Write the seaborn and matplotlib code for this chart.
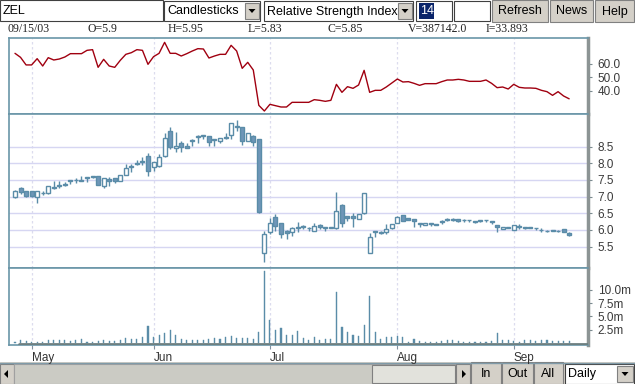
import numpy as np
import pandas as pd
import seaborn as sns
import matplotlib.pyplot as plt
from matplotlib.patches import Rectangle, Polygon

sns.set_theme(style="white")
plt.rcParams['font.family'] = ['Liberation Sans', 'DejaVu Sans']

# daily candles, 101 sessions ending 09/15/03
opens = [6.98, 7.25, 7.18, 7.18, 6.98, 7.10, 7.11, 7.30, 7.32, 7.36,
         7.47, 7.49, 7.50, 7.57, 7.61, 7.61, 7.33, 7.53, 7.55, 7.48,
         7.66, 7.90, 8.00, 8.05, 8.23, 7.88, 7.91, 8.23, 8.96, 8.45,
         8.60, 8.51, 8.67, 8.80, 8.83, 8.81, 8.70, 8.66, 8.78, 8.84,
         9.10, 9.08, 8.68, 8.81, 8.73, 5.30, 5.93, 6.38, 6.21, 5.98,
         5.93, 6.07, 6.13, 6.05, 5.98, 6.16, 6.10, 6.07, 6.05, 6.76,
         6.41, 6.43, 6.33, 6.51, 5.30, 5.95, 5.92, 5.95, 6.05, 6.20,
         6.45, 6.35, 6.33, 6.21, 6.15, 6.21, 6.18, 6.25, 6.31, 6.31,
         6.33, 6.31, 6.30, 6.26, 6.28, 6.30, 6.28, 6.15, 6.03, 6.07,
         6.01, 6.10, 6.08, 6.08, 6.06, 6.00, 5.98, 6.01, 5.98, 6.03, 5.90]
highs = [7.20, 7.28, 7.18, 7.18, 7.18, 7.16, 7.33, 7.46, 7.48, 7.43,
         7.51, 7.55, 7.63, 7.60, 7.63, 7.62, 7.56, 7.58, 7.57, 7.66,
         7.98, 7.98, 8.10, 8.20, 8.31, 8.03, 8.28, 8.91, 9.10, 8.93,
         8.66, 8.60, 8.72, 8.86, 8.86, 8.81, 8.73, 8.77, 8.91, 9.20,
         9.30, 9.10, 8.92, 8.86, 8.73, 5.98, 6.35, 6.48, 6.21, 6.00,
         6.10, 6.23, 6.14, 6.08, 6.21, 6.17, 6.10, 6.10, 7.15, 6.78,
         6.42, 6.50, 6.49, 7.10, 5.91, 5.98, 5.96, 6.18, 6.18, 6.41,
         6.46, 6.36, 6.33, 6.21, 6.21, 6.22, 6.18, 6.31, 6.35, 6.35,
         6.33, 6.32, 6.31, 6.27, 6.30, 6.31, 6.28, 6.15, 6.10, 6.09,
         6.15, 6.18, 6.09, 6.09, 6.07, 6.05, 5.99, 6.01, 5.99, 6.03, 5.95]
lows = [6.96, 7.08, 6.98, 6.98, 6.80, 7.05, 7.08, 7.23, 7.26, 7.33,
        7.38, 7.41, 7.46, 7.45, 7.56, 7.34, 7.25, 7.33, 7.40, 7.47,
        7.65, 7.73, 7.96, 7.96, 7.63, 7.76, 7.88, 8.20, 8.43, 8.33,
        8.35, 8.45, 8.53, 8.60, 8.72, 8.53, 8.51, 8.60, 8.72, 8.72,
        8.98, 8.56, 8.67, 8.53, 6.50, 5.03, 5.88, 5.98, 5.76, 5.73,
        5.81, 5.93, 6.03, 5.96, 5.96, 6.03, 5.98, 6.05, 6.03, 6.08,
        6.28, 6.08, 6.32, 6.48, 5.30, 5.78, 5.88, 5.88, 6.04, 6.20,
        6.26, 6.29, 6.10, 6.08, 6.15, 6.13, 6.15, 6.18, 6.26, 6.26,
        6.23, 6.23, 6.25, 6.21, 6.23, 6.25, 6.18, 5.93, 6.02, 6.05,
        6.00, 6.03, 6.03, 6.05, 6.00, 5.93, 5.93, 5.96, 5.95, 5.93, 5.83]
closes = [7.18, 7.15, 7.01, 7.01, 7.18, 7.12, 7.31, 7.27, 7.34, 7.38,
          7.49, 7.50, 7.47, 7.59, 7.58, 7.36, 7.55, 7.46, 7.46, 7.65,
          7.86, 7.92, 7.97, 8.07, 7.76, 8.03, 8.18, 8.75, 8.50, 8.51,
          8.48, 8.47, 8.69, 8.82, 8.84, 8.63, 8.72, 8.76, 8.75, 9.20,
          9.12, 8.68, 8.91, 8.63, 6.53, 5.88, 6.20, 6.13, 5.88, 5.90,
          6.05, 6.09, 6.08, 6.07, 6.13, 6.08, 6.05, 6.09, 6.56, 6.20,
          6.36, 6.35, 6.48, 7.10, 5.78, 5.96, 5.93, 6.03, 6.18, 6.40,
          6.28, 6.30, 6.26, 6.18, 6.21, 6.19, 6.15, 6.27, 6.32, 6.32,
          6.28, 6.30, 6.29, 6.25, 6.29, 6.29, 6.23, 6.10, 6.10, 6.08,
          6.15, 6.11, 6.07, 6.07, 6.05, 6.00, 5.97, 5.96, 5.97, 5.93, 5.85]
volume_m = [0.13, 0.50, 0.31, 0.25, 0.19, 0.25, 0.50, 0.50, 0.50, 0.50,
            0.38, 0.50, 0.75, 0.19, 0.25, 0.31, 0.50, 0.38, 0.38, 0.50,
            0.94, 0.75, 0.75, 1.19, 3.19, 1.19, 1.50, 1.88, 2.44, 1.50,
            0.69, 0.50, 0.56, 0.50, 0.63, 0.75, 0.94, 0.75, 1.19, 1.25,
            0.88, 0.94, 0.88, 0.75, 2.06, 13.50, 4.31, 2.44, 2.81, 1.50,
            1.50, 2.25, 0.94, 0.56, 1.19, 0.50, 0.75, 0.75, 9.63, 3.00,
            2.06, 1.50, 1.31, 3.38, 8.82, 2.06, 0.81, 1.19, 1.19, 1.31,
            1.06, 0.13, 0.75, 0.38, 0.19, 0.19, 0.19, 0.38, 0.50, 0.50,
            0.38, 0.25, 0.19, 0.19, 0.19, 0.19, 0.38, 1.88, 0.50, 0.50,
            0.31, 0.25, 0.50, 0.50, 0.38, 0.50, 0.50, 0.38, 0.38, 0.38, 0.387]
rsi = [68.0, 65.0, 59.3, 59.3, 64.0, 58.5, 64.75, 63.0, 63.75, 65.25,
       67.75, 67.75, 67.75, 70.25, 70.75, 57.5, 63.5, 58.5, 57.5, 62.75,
       67.25, 68.5, 70.75, 70.25, 59.75, 65.5, 68.0, 76.25, 68.0, 68.0,
       66.0, 67.75, 69.75, 71.5, 71.25, 64.5, 66.0, 67.25, 67.25, 74.0,
       69.75, 56.75, 61.25, 55.5, 29.0, 24.75, 29.75, 28.75, 27.75, 27.75,
       31.25, 31.25, 31.25, 31.25, 33.25, 32.75, 32.0, 32.75, 44.75, 38.75,
       43.0, 41.75, 44.25, 55.25, 38.75, 40.25, 40.25, 42.75, 45.75, 48.75,
       46.5, 46.75, 45.5, 44.0, 45.25, 45.25, 45.25, 46.75, 48.0, 48.0,
       48.5, 48.0, 47.0, 47.0, 47.0, 48.0, 45.5, 42.25, 42.75, 41.25,
       44.75, 42.5, 42.0, 42.0, 41.75, 40.25, 39.25, 36.5, 39.25, 36.0, 33.893]

month_ticks = [3, 25, 46, 69, 90]
month_labels = ["May", "Jun", "Jul", "Aug", "Sep"]
price_ticks = [5.5, 6.0, 6.5, 7.0, 7.5, 8.0, 8.5]
rsi_ticks = [40.0, 50.0, 60.0]
vol_ticks = [2.5, 5.0, 7.5, 10.0]
info = ["09/15/03", "O=5.9", "H=5.95", "L=5.83", "C=5.85", "V=387142.0", "I=33.893"]

df = pd.DataFrame({"o": opens, "h": highs, "l": lows, "c": closes,
                   "vol": volume_m, "rsi": rsi})
df["i"] = np.arange(len(df))

W, H = 635, 384
fig = plt.figure(figsize=(W / 100, H / 100), dpi=100)
fig.patch.set_facecolor("white")


def box(x0, y0, x1, y1):
    return [x0 / W, 1 - y1 / H, (x1 - x0) / W, (y1 - y0) / H]


# ---- window chrome (toolbar / scrollbar) ----
ui = fig.add_axes([0, 0, 1, 1])
ui.set_xlim(0, W)
ui.set_ylim(H, 0)
ui.axis("off")
grey = "#d4d0c8"


def rect(x0, y0, x1, y1, fc, ec="#808080", lw=0.8):
    ui.add_patch(Rectangle((x0, y0), x1 - x0, y1 - y0, fc=fc, ec=ec, lw=lw))


def arrow_down(x0, y0, x1, y1):
    rect(x0, y0, x1, y1, grey)
    cx, cy = (x0 + x1) / 2, (y0 + y1) / 2
    ui.add_patch(Polygon([(cx - 3.5, cy - 2), (cx + 3.5, cy - 2), (cx, cy + 2)], fc="black", ec="none"))


rect(0, 0, 163, 21, "white", "#404040")
ui.text(3, 11, "ZEL", fontsize=9, va="center", color="black")
rect(164, 1, 260, 21, "white", "#404040")
ui.text(167, 11.5, "Candlesticks", fontsize=9, va="center", color="black")
arrow_down(245, 3, 259, 19)
rect(264, 1, 413, 21, "white", "#404040")
ui.text(267, 11.5, "Relative Strength Index", fontsize=9, va="center", color="black")
arrow_down(398, 3, 412, 19)
rect(416, 1, 452, 21, "white", "#404040")
rect(419, 3, 434, 19, "#0a246a", "none")
ui.text(420, 11.5, "14", fontsize=9, va="center", color="white")
rect(454, 1, 490, 21, "white", "#404040")
for x0, x1, lab in [(492, 548, "Refresh"), (550, 593, "News"), (595, 634, "Help")]:
    rect(x0, 0, x1, 22, grey)
    ui.text((x0 + x1) / 2, 11.5, lab, fontsize=9, ha="center", va="center", color="black")

for x, t in zip([8, 88, 168, 248, 327, 408, 486], info):
    ui.text(x, 29.5, t, fontsize=8.5, va="center", color="#222222", family="Liberation Serif")

ui.add_patch(Rectangle((0, 362), W, 22, fc=grey, ec="none"))
ui.plot([0, W], [362.5, 362.5], color="#7f9aa8", lw=1)
rect(0, 364, 14, 384, grey)
ui.add_patch(Polygon([(4, 374), (8, 370), (8, 378)], fc="black", ec="none"))
rect(14, 364, 456, 384, "#cbcbc4", "#a0a0a0")
rect(372, 365, 455, 383, "#e2e2dc", "#808080")
rect(456, 364, 470, 384, grey)
ui.add_patch(Polygon([(466, 374), (462, 370), (462, 378)], fc="black", ec="none"))
for x0, x1, lab in [(471, 501, "In"), (502, 533, "Out"), (534, 563, "All")]:
    rect(x0, 362, x1, 384, grey)
    ui.text((x0 + x1) / 2, 374, lab, fontsize=9, ha="center", va="center", color="black")
rect(565, 364, 634, 384, "white", "#404040")
ui.text(568, 374.5, "Daily", fontsize=9, va="center", color="black")
arrow_down(617, 366, 633, 382)

# ---- chart panels ----
ax_rsi = fig.add_axes(box(9, 38, 588, 114))
ax_px = fig.add_axes(box(9, 114, 588, 268))
ax_vol = fig.add_axes(box(9, 268, 588, 345))

edge = "#5a8ca8"
fill = "#6f96b8"
grid_c = "#d6d6f2"

for ax in (ax_rsi, ax_px, ax_vol):
    ax.set_facecolor("white")
    ax.set_xlim(-1.08, 103.4)
    for s in ("left", "top", "bottom"):
        ax.spines[s].set_color("#6a96a8")
        ax.spines[s].set_linewidth(1.2)
    ax.spines["right"].set_color("#8c9494")
    ax.spines["right"].set_linewidth(2.5)
    ax.set_xticks(month_ticks)
    ax.xaxis.grid(True, color="#dcdcee", ls=(0, (2, 2)), lw=0.9)
    ax.set_axisbelow(True)
    ax.yaxis.tick_right()
    ax.tick_params(axis="y", which="both", direction="out", length=3, width=0.8,
                   color="#7a8a90", labelsize=8.5, labelcolor="#3a3a3a", pad=4,
                   left=False, labelleft=False, right=True, labelright=True)

# RSI
sns.lineplot(data=df, x="i", y="rsi", ax=ax_rsi, color="#a00010", lw=1)
ax_rsi.set_ylim(22.5, 79.5)
ax_rsi.set_yticks(rsi_ticks)
ax_rsi.set_yticklabels([f"{t:.1f}" for t in rsi_ticks])
ax_rsi.set_xlabel("")
ax_rsi.set_ylabel("")

# candlesticks
up = df["c"] >= df["o"]
ax_px.vlines(df["i"], df["l"], df["h"], color=edge, lw=1, zorder=2)
body_lo = np.minimum(df["o"], df["c"])
body_h = np.maximum((df["c"] - df["o"]).abs(), 0.015)
ax_px.bar(df["i"], body_h, bottom=body_lo, width=0.72,
          color=np.where(up, "white", fill), edgecolor=edge, lw=1, zorder=3)
ax_px.set_ylim(4.86, 9.48)
ax_px.set_yticks(price_ticks)
ax_px.set_yticklabels([f"{t:.1f}" for t in price_ticks])
ax_px.yaxis.grid(True, color=grid_c, ls="-", lw=1)

# volume
ax_vol.bar(df["i"], df["vol"], width=0.2, color=edge, edgecolor=edge, lw=0.3, zorder=3)
ax_vol.axhline(-0.2, xmin=0.017, xmax=1, color="#6d7f80", lw=2, zorder=4)
ax_vol.set_ylim(-0.375, 14.07)
ax_vol.set_yticks(vol_ticks)
ax_vol.set_yticklabels([f"{t:.1f}m" for t in vol_ticks])

for ax in (ax_rsi, ax_px):
    ax.tick_params(axis="x", length=0, labelbottom=False)
ax_vol.set_xticklabels(month_labels, ha="left")
ax_vol.tick_params(axis="x", direction="out", length=3, width=0.8, color="#8090a0",
                   labelsize=8.5, labelcolor="#333333", pad=2, bottom=True)

fig.savefig("out.png", dpi=100)
